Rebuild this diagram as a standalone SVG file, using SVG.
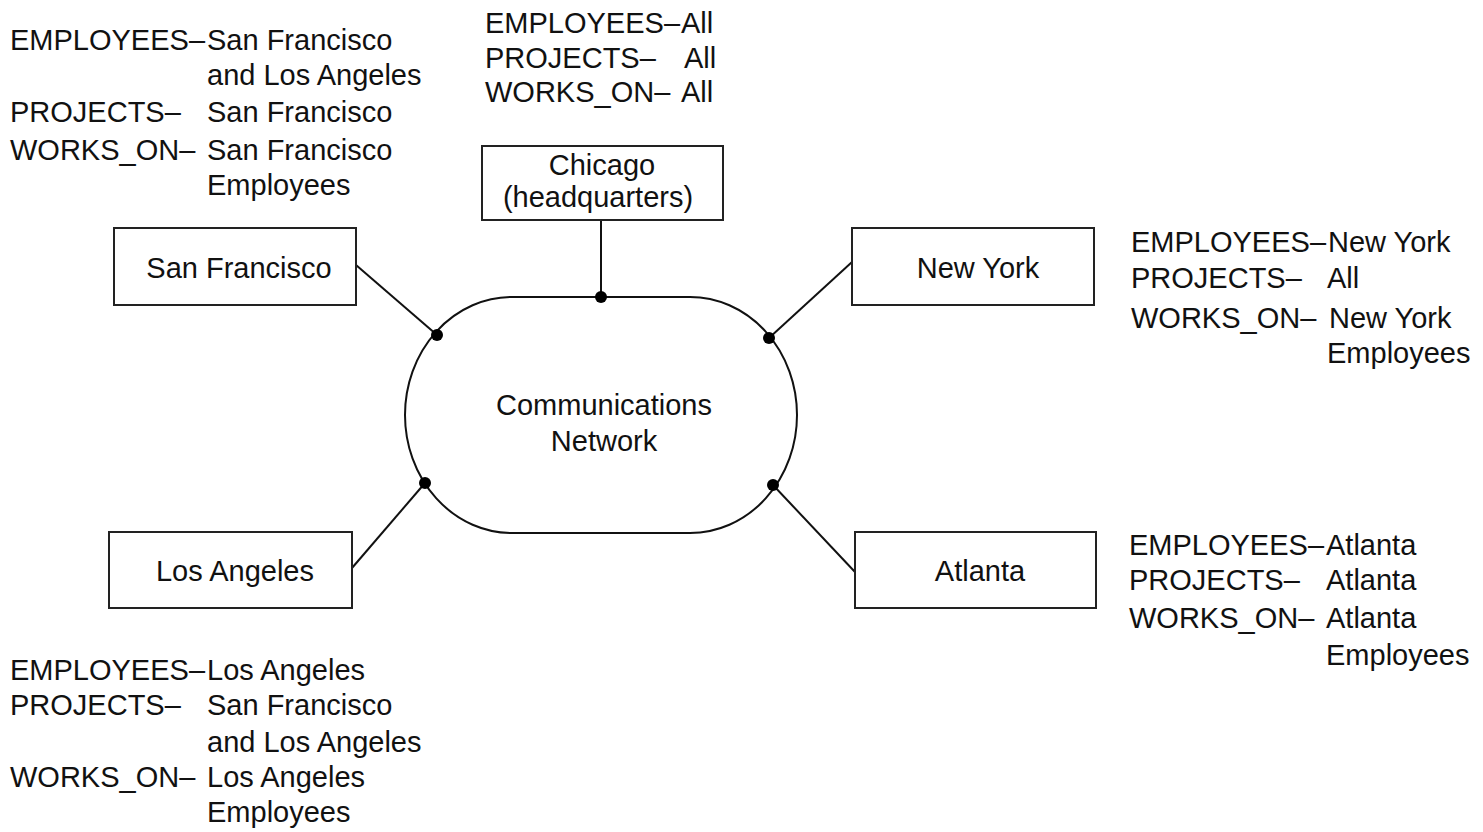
<svg xmlns="http://www.w3.org/2000/svg" width="1483" height="832" viewBox="0 0 1483 832">
<style>
text{font-family:"Liberation Sans",Arial,sans-serif;font-size:29px;fill:#111}
.c{text-anchor:middle}
.box{fill:#fff;stroke:#222;stroke-width:2}
.ln{stroke:#111;stroke-width:2;fill:none}
.dot{fill:#000}
</style>
<rect width="1483" height="832" fill="#fff"/>
<g id="network">
<path class="ln" d="M512,297 L690,297 A107,118 0 0 1 690,533 L512,533 A107,118 0 0 1 512,297 Z"/>
<text class="c" x="604" y="415">Communications</text>
<text class="c" x="604" y="451">Network</text>
</g>
<g id="connectors">
<line class="ln" x1="356" y1="265" x2="437" y2="335"/>
<line class="ln" x1="601" y1="220" x2="601" y2="297"/>
<line class="ln" x1="852" y1="262" x2="769" y2="338"/>
<line class="ln" x1="352" y1="568" x2="425" y2="483"/>
<line class="ln" x1="855" y1="572" x2="773" y2="485"/>
<circle class="dot" cx="437" cy="335" r="6"/>
<circle class="dot" cx="601" cy="297" r="6"/>
<circle class="dot" cx="769" cy="338" r="6"/>
<circle class="dot" cx="425" cy="483" r="6"/>
<circle class="dot" cx="773" cy="485" r="6"/>
</g>
<g id="chicago">
<rect class="box" x="482" y="146" width="241" height="74"/>
<text class="c" x="602" y="175">Chicago</text>
<text class="c" x="598" y="207">(headquarters)</text>
</g>
<g id="san-francisco">
<rect class="box" x="114" y="228" width="242" height="77"/>
<text class="c" x="239" y="278">San Francisco</text>
</g>
<g id="new-york">
<rect class="box" x="852" y="228" width="242" height="77"/>
<text class="c" x="978" y="278">New York</text>
</g>
<g id="los-angeles">
<rect class="box" x="109" y="532" width="243" height="76"/>
<text class="c" x="235" y="581">Los Angeles</text>
</g>
<g id="atlanta">
<rect class="box" x="855" y="532" width="241" height="76"/>
<text class="c" x="980" y="581">Atlanta</text>
</g>
<g id="sf-data">
<text x="10" y="50">EMPLOYEES–</text><text x="207" y="50">San Francisco</text>
<text x="207" y="85">and Los Angeles</text>
<text x="10" y="122">PROJECTS–</text><text x="207" y="122">San Francisco</text>
<text x="10" y="160">WORKS_ON–</text><text x="207" y="160">San Francisco</text>
<text x="207" y="195">Employees</text>
</g>
<g id="chicago-data">
<text x="485" y="33">EMPLOYEES–</text><text x="681" y="33">All</text>
<text x="485" y="68">PROJECTS–</text><text x="684" y="68">All</text>
<text x="485" y="102">WORKS_ON–</text><text x="681" y="102">All</text>
</g>
<g id="ny-data">
<text x="1131" y="252">EMPLOYEES–</text><text x="1328" y="252">New York</text>
<text x="1131" y="288">PROJECTS–</text><text x="1327" y="288">All</text>
<text x="1131" y="328">WORKS_ON–</text><text x="1329" y="328">New York</text>
<text x="1327" y="363">Employees</text>
</g>
<g id="la-data">
<text x="10" y="680">EMPLOYEES–</text><text x="207" y="680">Los Angeles</text>
<text x="10" y="715">PROJECTS–</text><text x="207" y="715">San Francisco</text>
<text x="207" y="752">and Los Angeles</text>
<text x="10" y="787">WORKS_ON–</text><text x="207" y="787">Los Angeles</text>
<text x="207" y="822">Employees</text>
</g>
<g id="atlanta-data">
<text x="1129" y="555">EMPLOYEES–</text><text x="1326" y="555">Atlanta</text>
<text x="1129" y="590">PROJECTS–</text><text x="1326" y="590">Atlanta</text>
<text x="1129" y="628">WORKS_ON–</text><text x="1326" y="628">Atlanta</text>
<text x="1326" y="665">Employees</text>
</g>
</svg>
